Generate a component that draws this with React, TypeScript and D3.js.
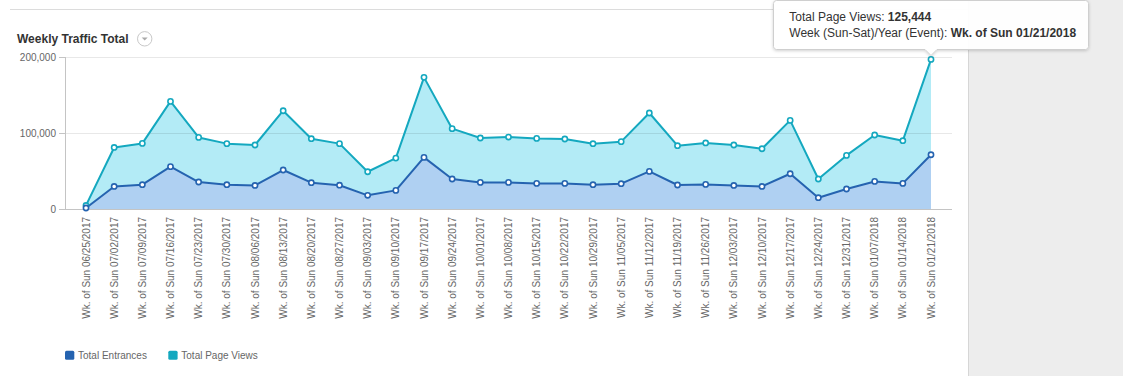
import React from "react";
import * as d3 from "d3";

const weeks = [
  "06/25/2017", "07/02/2017", "07/09/2017", "07/16/2017", "07/23/2017", "07/30/2017",
  "08/06/2017", "08/13/2017", "08/20/2017", "08/27/2017", "09/03/2017", "09/10/2017",
  "09/17/2017", "09/24/2017", "10/01/2017", "10/08/2017", "10/15/2017", "10/22/2017",
  "10/29/2017", "11/05/2017", "11/12/2017", "11/19/2017", "11/26/2017", "12/03/2017",
  "12/10/2017", "12/17/2017", "12/24/2017", "12/31/2017", "01/07/2018", "01/14/2018",
  "01/21/2018",
];
const categories = weeks.map((w) => `Wk. of Sun ${w}`);

const totalEntrances = [
  1300, 29700, 32000, 55700, 35500, 32000, 31000, 51300, 34600, 31300, 18000, 24500,
  67900, 39500, 35000, 35000, 33700, 33700, 32000, 33300, 49500, 31600, 32400, 31000,
  29700, 46400, 14900, 26300, 36300, 33700, 71400,
];
const totalPageViews = [
  3400, 51300, 54300, 85900, 58700, 54000, 53200, 78000, 57900, 54700, 31000, 42500,
  105300, 66200, 58400, 59700, 59200, 58400, 53900, 55300, 76800, 51700, 54500, 53200,
  49600, 70200, 24600, 44200, 61100, 56200, 125444,
];
const yTicks = [0, 100000, 200000];
const seriesNames = ["Total Entrances", "Total Page Views"];
const seriesColors = ["#2563b0", "#14a8bf"];
const fillColors = ["#afd0f2", "#b3ebf6"];

const W = 1123;
const H = 376;
const plotL = 66;
const plotR = 952;
const plotT = 57;
const plotB = 209;
const font = "'Liberation Sans', Arial, Helvetica, sans-serif";

export default function App() {
  const rows = categories.map((c, i) => ({
    cat: c,
    e: totalEntrances[i],
    p: totalPageViews[i],
  }));
  const stack = d3.stack<any>().keys(["e", "p"]);
  const stacked = stack(rows);

  const x = d3.scalePoint<string>().domain(categories).range([plotL + 20, plotR - 21]);
  const y = d3.scaleLinear().domain([0, 200000]).range([plotB, plotT]);

  const area = d3
    .area<any>()
    .x((d) => x(d.data.cat) as number)
    .y0((d) => y(d[0]))
    .y1((d) => y(d[1]));
  const line = d3
    .line<any>()
    .x((d) => x(d.data.cat) as number)
    .y((d) => y(d[1]));

  const fmt = d3.format(",");
  const last = rows.length - 1;
  const tipX = x(categories[last]) as number;

  // tooltip geometry
  const tL = 773.5, tR = 1088.5, tT = 0.5, tB = 49.5, r = 3;
  const aH = 6;
  const tipPath = `M${tL + r},${tT} H${tR - r} Q${tR},${tT} ${tR},${tT + r} V${tB - r} Q${tR},${tB} ${tR - r},${tB} H${tipX + aH} L${tipX},${tB + aH} L${tipX - aH},${tB} H${tL + r} Q${tL},${tB} ${tL},${tB - r} V${tT + r} Q${tL},${tT} ${tL + r},${tT} Z`;

  return (
    <svg
      width={W}
      height={H}
      style={{ position: "absolute", left: 0, top: 0, fontFamily: font }}
    >
      <defs>
        <filter id="shadow" x="-10%" y="-30%" width="120%" height="170%">
          <feDropShadow dx="0" dy="1" stdDeviation="1.5" floodColor="#000" floodOpacity="0.18" />
        </filter>
      </defs>
      <rect x={0} y={0} width={W} height={H} fill="#fff" />
      {/* right panel */}
      <rect x={968} y={0} width={W - 968} height={H} fill="#ededed" />
      <line x1={968.5} x2={968.5} y1={0} y2={H} stroke="#d6d6d6" />
      {/* top rule */}
      <line x1={10} x2={968} y1={9.5} y2={9.5} stroke="#dcdcdc" />

      {/* title */}
      <text x={17} y={43} fontSize={12} fontWeight="bold" fill="#333">
        Weekly Traffic Total
      </text>
      <circle cx={144.7} cy={38.8} r={7.2} fill="#fff" stroke="#c8c8c8" />
      <path d="M141.7,37.6 L147.7,37.6 L144.7,40.6 Z" fill="#aaa" />

      {/* areas */}
      {stacked.map((s, i) => (
        <path key={`a${i}`} d={area(s) as string} fill={fillColors[i]} />
      ))}

      {/* gridlines */}
      {yTicks.map((t) => (
        <line
          key={`g${t}`}
          x1={plotL}
          x2={plotR}
          y1={Math.round(y(t)) + 0.5}
          y2={Math.round(y(t)) + 0.5}
          stroke={t === 0 ? "#c4c4c4" : "#000"}
          strokeOpacity={t === 0 ? 1 : 0.09}
        />
      ))}
      {/* y axis */}
      <line x1={65.5} x2={65.5} y1={plotT} y2={plotB + 0.5} stroke="#c4c4c4" />
      {yTicks.map((t) => (
        <g key={`t${t}`}>
          <line x1={59} x2={66} y1={Math.round(y(t)) + 0.5} y2={Math.round(y(t)) + 0.5} stroke="#c4c4c4" />
          <text x={56} y={y(t)} dy="0.35em" textAnchor="end" fontSize={10} fill="#666">
            {fmt(t)}
          </text>
        </g>
      ))}

      {/* lines */}
      {[1, 0].map((i) => (
        <path
          key={`l${i}`}
          d={line(stacked[i]) as string}
          fill="none"
          stroke={seriesColors[i]}
          strokeWidth={2}
          strokeLinejoin="round"
        />
      ))}
      {[1, 0].map((i) =>
        stacked[i].map((d, j) => (
          <circle
            key={`m${i}-${j}`}
            cx={x(d.data.cat) as number}
            cy={y(d[1])}
            r={2.6}
            fill="#fff"
            stroke={seriesColors[i]}
            strokeWidth={1.6}
          />
        ))
      )}

      {/* x labels */}
      {categories.map((c) => {
        const cx = x(c) as number;
        return (
          <text
            key={c}
            transform={`translate(${cx + 3.5},${217}) rotate(-90)`}
            textAnchor="end"
            fontSize={10}
            fill="#666"
          >
            {c}
          </text>
        );
      })}

      {/* legend */}
      {seriesNames.map((n, i) => {
        const lx = i === 0 ? 65 : 168.3;
        return (
          <g key={n}>
            <rect x={lx} y={350.7} width={9.3} height={9} rx={1.5} fill={seriesColors[i]} />
            <text x={lx + 13} y={358.8} fontSize={10} fill="#666">
              {n}
            </text>
          </g>
        );
      })}

      {/* tooltip */}
      <path d={tipPath} fill="#fff" fillOpacity={0.97} stroke="#cfcfcf" filter="url(#shadow)" />
      <text x={789.3} y={20.5} fontSize={12} fill="#333">
        {"Total Page Views: "}
        <tspan fontWeight="bold">{fmt(totalPageViews[last])}</tspan>
      </text>
      <text x={789.3} y={37} fontSize={12} fill="#333">
        {"Week (Sun-Sat)/Year (Event): "}
        <tspan fontWeight="bold">{categories[last]}</tspan>
      </text>
    </svg>
  );
}
